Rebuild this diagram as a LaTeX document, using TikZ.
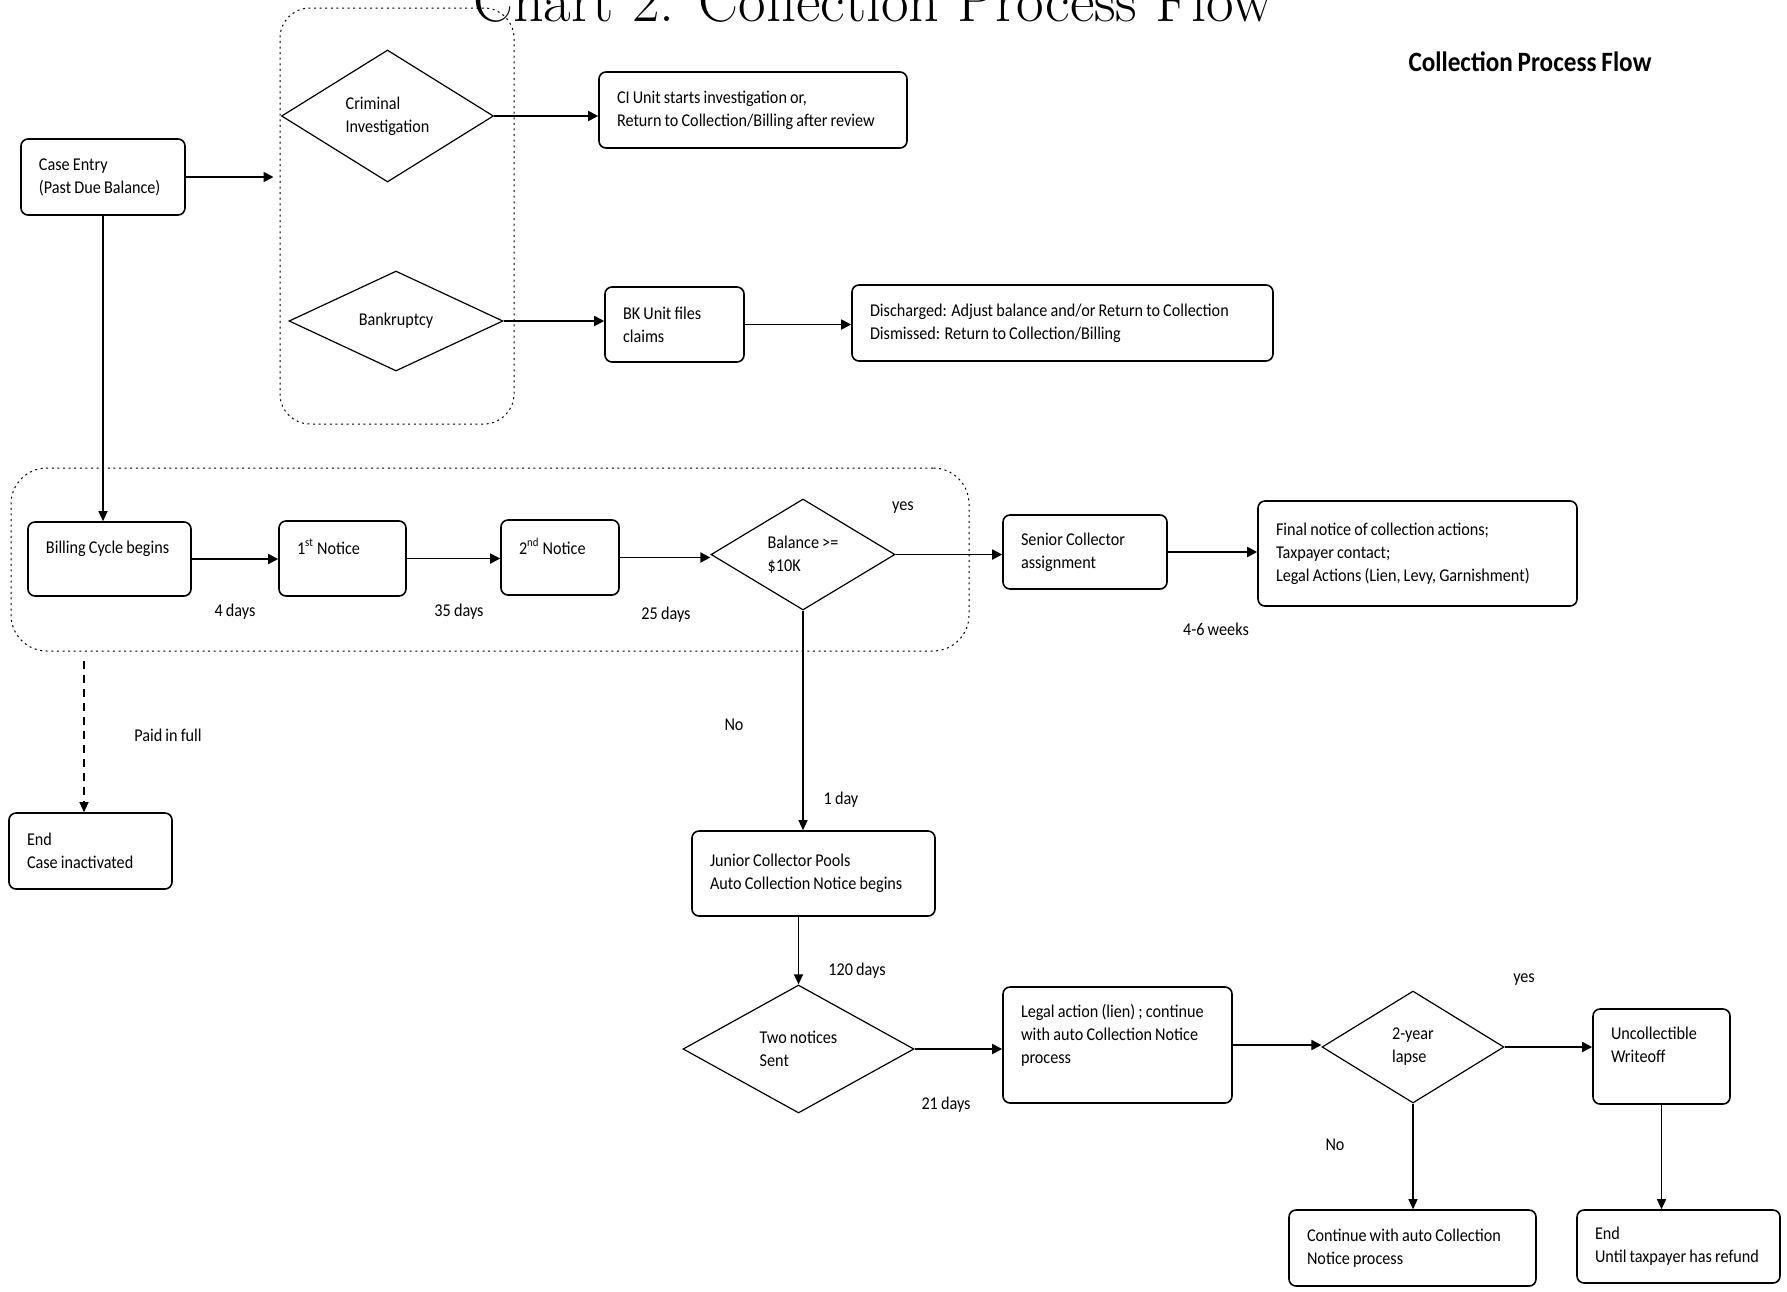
\documentclass[tikz,border=0pt]{standalone}
\usepackage{fontspec}
\newfontfamily\cfont{Carlito}[FakeStretch=0.9, WordSpace=0.85]
\newcommand\flowfont{\cfont\fontsize{9}{11.5}\selectfont}
\usetikzlibrary{arrows.meta,shapes.geometric}

\tikzset{
  box/.style={draw, rounded corners=3.5pt, line width=0.8pt, align=flush left,
    inner xsep=9pt, inner ysep=2pt, font=\flowfont},
  decision/.style={draw, diamond, line width=0.6pt, inner sep=0pt,
    align=flush left, font=\flowfont},
  lbl/.style={font=\flowfont},
  arr/.style={-{Triangle[length=5pt,width=5pt]}, line width=0.9pt},
  varr/.style={-{Triangle[length=5pt,width=4.5pt]}, line width=0.6pt},
  grp/.style={draw, line width=0.5pt, dash pattern=on 1pt off 1.8pt}
}

\begin{document}
\begin{tikzpicture}[x=0.5pt, y=-0.5pt]
  \useasboundingbox (0,0) rectangle (1787,1291);

  % Titles
  \node[font=\fontsize{30}{34}\selectfont, anchor=base] (title) at (873,21) {Chart 2. Collection Process Flow};
  \node[font=\cfont\bfseries\fontsize{14}{16}\selectfont] (head) at (1530,62) {Collection Process Flow};

  % Dotted groups
  \node[grp, rounded corners=15pt, minimum width=117pt, minimum height=208pt] (topgrp) at (397,216) {};
  \node[grp, rounded corners=18pt, minimum width=479pt, minimum height=91.5pt] (billgrp) at (490,559.5) {};

  % Case entry and special cases
  \node[box, minimum height=38pt, text width=64pt] (entry) at (103,177) {Case Entry\\(Past Due Balance)};
  \node[decision, minimum width=106pt, minimum height=66pt] (crim) at (387.5,116) {Criminal\\Investigation};
  \node[decision, minimum width=107pt, minimum height=50pt] (bankr) at (396,321) {Bankruptcy};
  \node[box, minimum height=38pt, text width=136pt] (ciunit) at (753,110) {CI Unit starts investigation or,\\Return to Collection/Billing after review};
  \node[box, minimum height=37.5pt, text width=51.5pt] (bkunit) at (674.5,324.5) {BK Unit files\\claims};
  \node[box, minimum height=38pt, text width=192.5pt] (disch) at (1062.5,323) {Discharged: Adjust balance and/or Return to Collection\\Dismissed: Return to Collection/Billing};

  % Billing cycle
  \node[box, minimum height=37pt, text width=63.5pt] (billing) at (109.5,559) {\mbox{Billing Cycle begins}\\\mbox{}};
  \node[box, minimum height=37.5pt, text width=45.5pt] (notice1) at (342.5,558.5) {1\textsuperscript{st} Notice\\\mbox{}};
  \node[box, minimum height=37.5pt, text width=41pt] (notice2) at (560,557.5) {2\textsuperscript{nd} Notice\\\mbox{}};
  \node[decision, minimum width=92pt, minimum height=55.5pt] (balance) at (803,554.5) {Balance >=\\\$10K};
  \node[box, minimum height=37pt, text width=64pt] (senior) at (1085,552) {Senior Collector\\assignment};
  \node[box, minimum height=52.5pt, text width=141.5pt] (final) at (1417.5,553.5) {Final notice of collection actions;\\Taxpayer contact;\\Legal Actions (Lien, Levy, Garnishment)};
  \node[box, minimum height=38pt, text width=63.5pt] (endcase) at (90.5,851) {End\\Case inactivated};

  % Junior collector branch
  \node[box, minimum height=42.5pt, text width=103.5pt] (junior) at (813.5,873.5) {Junior Collector Pools\\\mbox{Auto Collection Notice begins}};
  \node[decision, minimum width=115.5pt, minimum height=64pt] (twonot) at (798.5,1049) {Two notices\\Sent};
  \node[box, minimum height=58pt, text width=96.5pt] (legal) at (1117.5,1045) {\mbox{Legal action (lien) ; continue}\\with auto Collection Notice\\process\\\mbox{}};
  \node[decision, minimum width=91pt, minimum height=56pt] (lapse) at (1413,1047) {2-year\\lapse};
  \node[box, minimum height=47.5pt, text width=50.5pt] (uncoll) at (1661.5,1056.5) {Uncollectible\\Writeoff\\\mbox{}};
  \node[box, minimum height=38pt, text width=105.5pt] (contin) at (1412.5,1248) {Continue with auto Collection\\Notice process};
  \node[box, minimum height=36.5pt, text width=83.5pt] (endref) at (1678.5,1246.5) {End\\\mbox{Until taxpayer has refund}};

  % Connectors
  \draw[arr, shorten >=3pt] (entry.east) -- (entry.east -| topgrp.west);
  \draw[arr] (crim.east) -- (crim.east -| ciunit.west);
  \draw[arr] (bankr.east) -- (bankr.east -| bkunit.west);
  \draw[arr] (bkunit.east) -- (bkunit.east -| disch.west);
  \draw[varr] (entry.south) -- (entry.south |- billing.north);
  \draw[arr] (billing.east) -- (billing.east -| notice1.west);
  \draw[arr] (notice1.east) -- (notice1.east -| notice2.west);
  \draw[arr] (notice2.east) -- (notice2.east -| balance.west);
  \draw[arr] (balance.east) -- (balance.east -| senior.west);
  \draw[arr] (senior.east) -- (senior.east -| final.west);
  \coordinate (paid) at (84,661);
  \draw[varr, dash pattern=on 4pt off 3pt] (paid) -- (paid |- endcase.north);
  \draw[varr] (balance.south) -- (balance.south |- junior.north);
  \draw[varr] (junior.south -| twonot.north) -- (twonot.north);
  \draw[arr] (twonot.east) -- (twonot.east -| legal.west);
  \draw[arr] (legal.east) -- (legal.east -| lapse.west);
  \draw[arr] (lapse.east) -- (lapse.east -| uncoll.west);
  \draw[varr] (lapse.south) -- (lapse.south |- contin.north);
  \draw[varr] (uncoll.south) -- (uncoll.south |- endref.north);

  % Edge labels
  \node[lbl] (d4) at (235,612) {4 days};
  \node[lbl] (d35) at (459,612) {35 days};
  \node[lbl] (d25) at (666,615) {25 days};
  \node[lbl] (yes1) at (903,508) {yes};
  \node[lbl] (w46) at (1216,629) {4-6 weeks};
  \node[lbl] (paidfull) at (168,735) {Paid in full};
  \node[lbl] (no1) at (734,725) {No};
  \node[lbl] (d1) at (841,800) {1 day};
  \node[lbl] (d120) at (857,971) {120 days};
  \node[lbl] (d21) at (946,1105) {21 days};
  \node[lbl] (yes2) at (1524,980) {yes};
  \node[lbl] (no2) at (1335,1145) {No};
\end{tikzpicture}
\end{document}
